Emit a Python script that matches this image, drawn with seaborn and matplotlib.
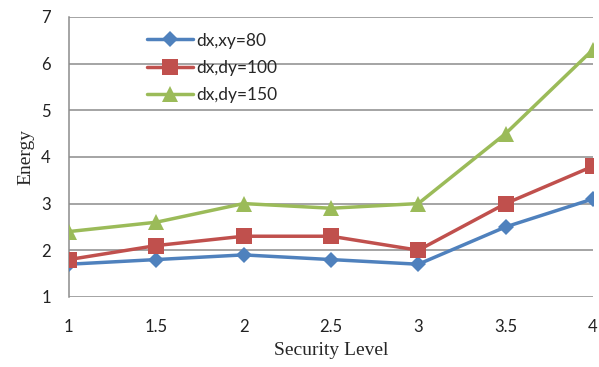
import matplotlib
matplotlib.use("Agg")
import matplotlib.pyplot as plt
import seaborn as sns
import pandas as pd

security_level = [1, 1.5, 2, 2.5, 3, 3.5, 4]
energy_80 = [1.7, 1.8, 1.9, 1.8, 1.7, 2.5, 3.1]
energy_100 = [1.8, 2.1, 2.3, 2.3, 2.0, 3.0, 3.8]
energy_150 = [2.4, 2.6, 3.0, 2.9, 3.0, 4.5, 6.3]
series_names = ["dx,xy=80", "dx,dy=100", "dx,dy=150"]

sns.set_theme(style="white")
plt.rcParams["font.family"] = ["Lato", "DejaVu Sans"]

df = pd.DataFrame({
    "Security Level": security_level * 3,
    "Energy": energy_80 + energy_100 + energy_150,
    "series": [series_names[0]] * 7 + [series_names[1]] * 7 + [series_names[2]] * 7,
})

fig = plt.figure(figsize=(5.99, 3.67), dpi=100)
ax = fig.add_axes([0.115, 0.191, 0.875, 0.763])

palette = {series_names[0]: "#4F81BD", series_names[1]: "#C0504D", series_names[2]: "#9BBB59"}
markers = {series_names[0]: "D", series_names[1]: "s", series_names[2]: "^"}
sizes = {series_names[0]: 8, series_names[1]: 11, series_names[2]: 11.5}

for name in series_names:
    sub = df[df["series"] == name]
    sns.lineplot(data=sub, x="Security Level", y="Energy", ax=ax,
                 color=palette[name], marker=markers[name], markersize=sizes[name],
                 markeredgewidth=0, linewidth=2.5, label=name, zorder=3)

ax.set_xlim(1, 4)
ax.set_ylim(1, 7)
ax.set_xticks(security_level)
ax.set_xticklabels(["1", "1.5", "2", "2.5", "3", "3.5", "4"])
ax.set_yticks(range(1, 8))
ax.yaxis.grid(True, color="#8c8c8c", linewidth=1.1)
ax.xaxis.grid(False)
for side in ["top", "right", "bottom"]:
    ax.spines[side].set_visible(False)
ax.spines["left"].set_color("#8c8c8c")
ax.spines["left"].set_linewidth(1.1)
ax.tick_params(axis="x", length=0, pad=16, labelsize=12, colors="#222222")
ax.tick_params(axis="y", length=0, pad=13, labelsize=12, colors="#222222")

ax.set_xlabel("Security Level", family="Liberation Serif", fontsize=14, labelpad=5)
ax.set_ylabel("Energy", family="Liberation Serif", fontsize=14, labelpad=5)

leg = ax.legend(loc="upper left", bbox_to_anchor=(0.12, 1.0), frameon=False,
                fontsize=12.5, handlelength=2.6, handletextpad=0.2, labelspacing=0.65)

fig.savefig("out.png", dpi=100)
